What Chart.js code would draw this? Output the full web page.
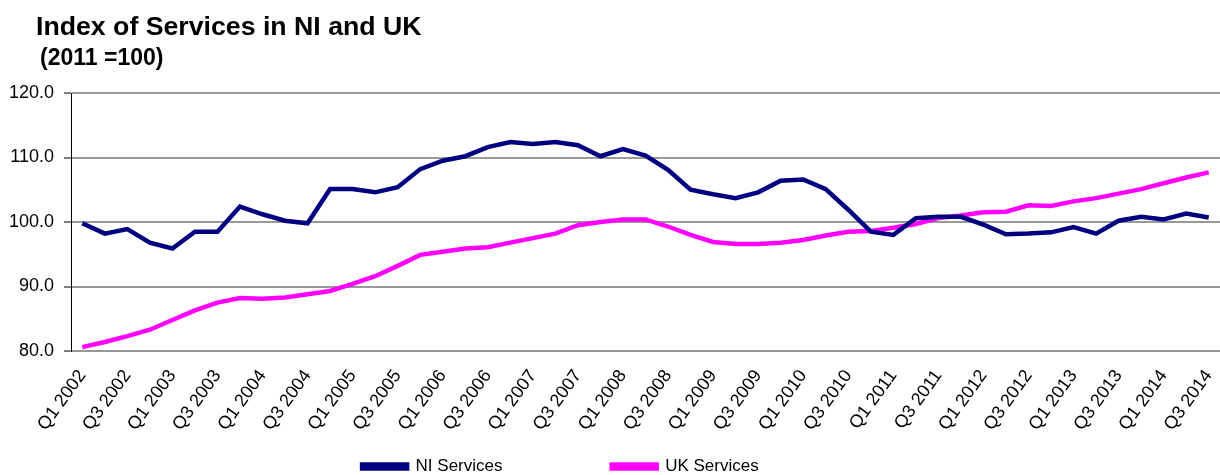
<!DOCTYPE html>
<html>
<head>
<meta charset="utf-8">
<script src="https://cdn.jsdelivr.net/npm/chart.js@4"></script>
<style>
  html, body { margin: 0; padding: 0; background: #fff; }
  #wrap { position: relative; width: 1220px; height: 475px; }
  #title { position: absolute; left: 36px; top: 11px; font: bold 26.7px "Liberation Sans", Arial, sans-serif; color: #000; white-space: nowrap; }
  #subtitle { position: absolute; left: 40px; top: 44px; font: bold 23px "Liberation Sans", Arial, sans-serif; color: #000; white-space: nowrap; }
</style>
</head>
<body>
<div id="wrap">
  <canvas id="myChart"></canvas>
  <div id="title">Index of Services in NI and UK</div>
  <div id="subtitle">(2011 =100)</div>
</div>
<script>
// Quarters (categories)
const quarters = [
  'Q1 2002', 'Q2 2002', 'Q3 2002', 'Q4 2002',
  'Q1 2003', 'Q2 2003', 'Q3 2003', 'Q4 2003',
  'Q1 2004', 'Q2 2004', 'Q3 2004', 'Q4 2004',
  'Q1 2005', 'Q2 2005', 'Q3 2005', 'Q4 2005',
  'Q1 2006', 'Q2 2006', 'Q3 2006', 'Q4 2006',
  'Q1 2007', 'Q2 2007', 'Q3 2007', 'Q4 2007',
  'Q1 2008', 'Q2 2008', 'Q3 2008', 'Q4 2008',
  'Q1 2009', 'Q2 2009', 'Q3 2009', 'Q4 2009',
  'Q1 2010', 'Q2 2010', 'Q3 2010', 'Q4 2010',
  'Q1 2011', 'Q2 2011', 'Q3 2011', 'Q4 2011',
  'Q1 2012', 'Q2 2012', 'Q3 2012', 'Q4 2012',
  'Q1 2013', 'Q2 2013', 'Q3 2013', 'Q4 2013',
  'Q1 2014', 'Q2 2014', 'Q3 2014'
];

// NI Services
const niServices = [
  99.8, 98.2, 98.9, 96.8, 95.9, 98.5, 98.5, 102.4, 101.2, 100.2,
  99.8, 105.1, 105.1, 104.6, 105.4, 108.2, 109.5, 110.2, 111.6, 112.4,
  112.1, 112.4, 111.9, 110.2, 111.3, 110.3, 108.1, 105.0, 104.3, 103.7,
  104.6, 106.4, 106.6, 105.1, 101.9, 98.5, 98.0, 100.6, 100.8, 100.8,
  99.6, 98.1, 98.2, 98.4, 99.2, 98.2, 100.2, 100.8, 100.4, 101.3,
  100.7
];

// UK Services
const ukServices = [
  80.6, 81.4, 82.3, 83.3, 84.8, 86.3, 87.5, 88.2, 88.1, 88.3,
  88.8, 89.3, 90.4, 91.6, 93.2, 94.9, 95.4, 95.9, 96.1, 96.8,
  97.5, 98.2, 99.5, 100.0, 100.4, 100.4, 99.3, 98.0, 96.9, 96.6,
  96.6, 96.8, 97.2, 97.9, 98.5, 98.6, 99.1, 99.7, 100.6, 101.0,
  101.5, 101.6, 102.6, 102.5, 103.2, 103.7, 104.4, 105.1, 106.0, 106.9,
  107.7
];

// Y axis ticks
const yMin = 80;
const yMax = 120;
const yStep = 10;

// legend gap (Excel puts the two entries far apart)
const gapNI = '\u00A0'.repeat(21);
const gapUK = '\u00A0'.repeat(21);

const ctx = document.getElementById('myChart').getContext('2d');

new Chart(ctx, {
  type: 'line',
  data: {
    labels: quarters,
    datasets: [
      {
        label: 'NI Services',
        data: niServices,
        borderColor: '#000080',
        backgroundColor: '#000080',
        borderWidth: 4.5,
        pointRadius: 0,
        tension: 0
      },
      {
        label: 'UK Services',
        data: ukServices,
        borderColor: '#FF00FF',
        backgroundColor: '#FF00FF',
        borderWidth: 4.5,
        pointRadius: 0,
        tension: 0
      }
    ]
  },
  options: {
    responsive: true,
    maintainAspectRatio: false,
    animation: false,
    layout: {
      padding: { top: 93, right: 0, left: 0, bottom: -10 }
    },
    plugins: {
      tooltip: { enabled: false },
      legend: {
        position: 'bottom',
        labels: {
          boxWidth: 45,
          boxHeight: 4,
          padding: 10,
          color: '#000',
          font: { family: '"Liberation Sans", Arial, sans-serif', size: 17 },
          generateLabels: (chart) => {
            const items = Chart.defaults.plugins.legend.labels.generateLabels(chart);
            items[0].text = items[0].text + gapNI;
            items[1].text = items[1].text + gapUK;
            return items;
          }
        }
      }
    },
    scales: {
      x: {
        offset: true,
        grid: { display: false },
        border: { color: '#999', width: 2 },
        afterFit: (scale) => {
          scale.height = 97;
          scale.paddingLeft = 0;
          scale.paddingRight = 0;
        },
        ticks: {
          autoSkip: false,
          minRotation: 54,
          maxRotation: 54,
          padding: 7,
          color: '#000',
          font: { family: '"Liberation Sans", Arial, sans-serif', size: 18 },
          callback: (value, index) => index % 2 === 0 ? quarters[index] : ''
        }
      },
      y: {
        min: yMin,
        max: yMax,
        afterFit: (scale) => { scale.width = 71; },
        ticks: {
          stepSize: yStep,
          padding: 10,
          color: '#000',
          font: { family: '"Liberation Sans", Arial, sans-serif', size: 18 },
          callback: (value) => value.toFixed(1)
        },
        grid: {
          color: '#999',
          lineWidth: 2,
          tickColor: '#000',
          tickLength: 7,
          tickWidth: 1
        },
        border: { color: '#000', width: 1 }
      }
    }
  }
});
</script>
</body>
</html>
